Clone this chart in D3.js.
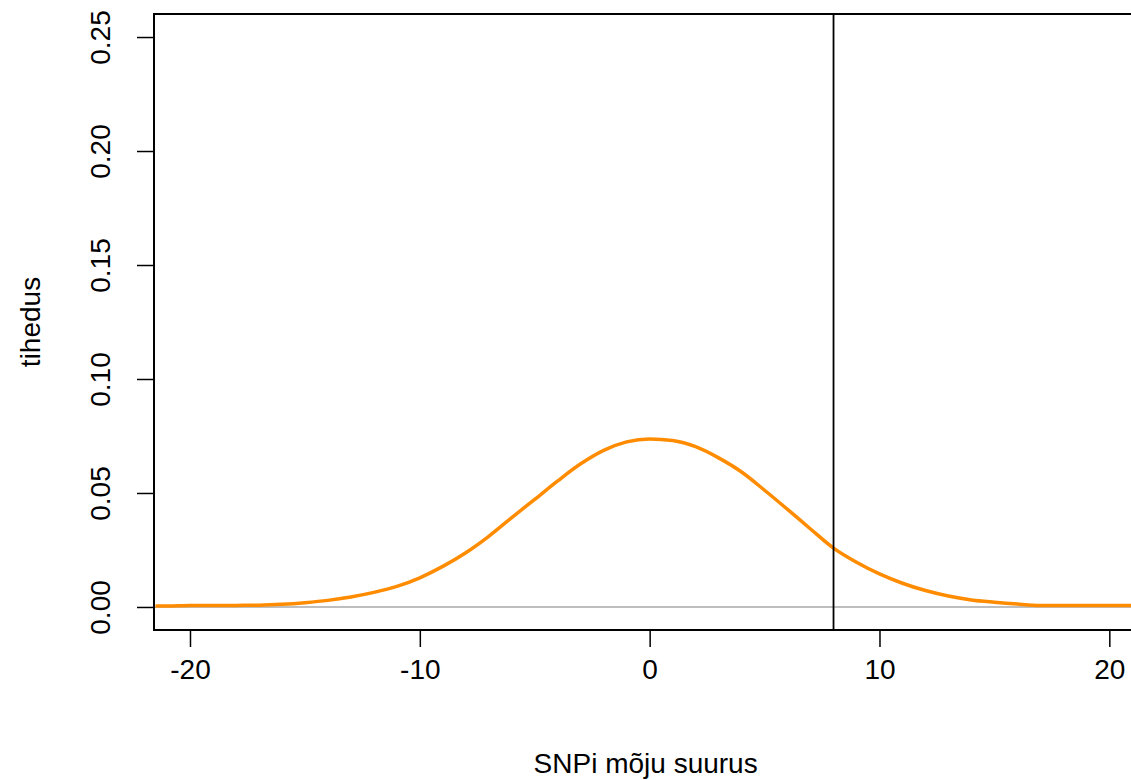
<!DOCTYPE html>
<html>
<head>
<meta charset="utf-8">
<script src="https://cdn.jsdelivr.net/npm/d3@7"></script>
<style>
  body { margin: 0; background: #fff; }
  text { font-family: "Liberation Sans", Arial, sans-serif; fill: #000; }
</style>
</head>
<body>
<div id="chart"></div>
<script>
// density, one value per unit of effect size
var effect = [-21.5, -21, -20, -19, -18, -17, -16, -15, -14, -13, -12, -11, -10, -9, -8, -7, -6, -5, -4, -3, -2, -1,
              0, 1, 2, 3, 4, 5, 6, 7, 8, 9, 10, 11, 12, 13, 14, 15, 16, 17, 18, 19, 20, 21];
var density = [0.0004, 0.0004, 0.0006, 0.0006, 0.0007, 0.0008, 0.0012, 0.0019, 0.0029, 0.0044, 0.0064, 0.0090, 0.0128, 0.0178, 0.0238, 0.0310, 0.0392, 0.0472, 0.0553, 0.0628, 0.0687, 0.0724,
               0.0737, 0.0730, 0.0703, 0.0654, 0.0592, 0.0512, 0.0428, 0.0342, 0.0258, 0.0196, 0.0145, 0.0104, 0.0072, 0.0048, 0.0031, 0.0021, 0.0013, 0.0007, 0.0006, 0.0006, 0.0006, 0.0006];
var xTicks = [-20, -10, 0, 10, 20];
var yTicks = [0, 0.05, 0.10, 0.15, 0.20, 0.25];
var cutoff = 8;
var xTitle = "SNPi mõju suurus";
var yTitle = "tihedus";

var width = 1131,
    height = 780,
    margin = {top: 14, bottom: 150, left: 154, right: -5};

var data = effect.map(function(v, i){ return {x: v, y: density[i]}; });

var x = d3.scaleLinear()
  .domain([-21.566, 21.161])
  .range([margin.left, width - margin.right]);

var y = d3.scaleLinear()
  .domain([-0.0101, 0.2601])
  .range([height - margin.bottom, margin.top]);

var svg = d3.select("#chart").append("svg")
  .attr("width", width)
  .attr("height", height);

svg.append("clipPath").attr("id", "plotclip")
  .append("rect")
  .attr("x", margin.left).attr("y", margin.top)
  .attr("width", width - margin.left - margin.right)
  .attr("height", height - margin.top - margin.bottom);

var plot = svg.append("g").attr("clip-path", "url(#plotclip)");

// zero line
plot.append("line")
  .attr("x1", margin.left).attr("x2", width)
  .attr("y1", y(0)).attr("y2", y(0))
  .style("stroke", "#bebebe")
  .style("stroke-width", 2);

var line = d3.line()
  .curve(d3.curveMonotoneX)
  .x(function(d){ return x(d.x); })
  .y(function(d){ return y(d.y); });

plot.append("path")
  .datum(data)
  .attr("d", line)
  .style("fill", "none")
  .style("stroke", "#ff8c00")
  .style("stroke-width", 3.5);

// cutoff line
plot.append("line")
  .attr("x1", x(cutoff)).attr("x2", x(cutoff))
  .attr("y1", margin.top).attr("y2", height - margin.bottom)
  .style("stroke", "#000")
  .style("stroke-width", 1.8);

// box
svg.append("rect")
  .attr("x", margin.left).attr("y", margin.top)
  .attr("width", width - margin.left - margin.right)
  .attr("height", height - margin.top - margin.bottom)
  .style("fill", "none")
  .style("stroke", "#000")
  .style("stroke-width", 2);

// axes
var xAxis = svg.append("g")
  .attr("transform", "translate(0," + (height - margin.bottom) + ")")
  .call(d3.axisBottom(x).tickValues(xTicks).tickSize(17).tickPadding(12)
    .tickFormat(function(d){ return d3.format("")(d).replace("−", "-"); }));
xAxis.select(".domain").remove();
xAxis.selectAll(".tick line").style("stroke", "#000").style("stroke-width", 1.5);
xAxis.selectAll("text").style("font-size", "28px").attr("dy", "0.71em");

var yAxis = svg.append("g")
  .attr("transform", "translate(" + margin.left + ",0)")
  .call(d3.axisLeft(y).tickValues(yTicks).tickSize(17).tickFormat(d3.format(".2f")));
yAxis.select(".domain").remove();
yAxis.selectAll(".tick line").style("stroke", "#000").style("stroke-width", 1.5);
yAxis.selectAll("text")
  .style("font-size", "28px")
  .style("text-anchor", "middle")
  .attr("x", 0).attr("dy", 0)
  .attr("transform", "translate(-44,0) rotate(-90)");

// titles
svg.append("text")
  .attr("x", x(0) - 4).attr("y", 773)
  .style("text-anchor", "middle")
  .style("font-size", "28px")
  .text(xTitle);

svg.append("text")
  .attr("transform", "translate(40," + 322 + ") rotate(-90)")
  .style("text-anchor", "middle")
  .style("font-size", "28px")
  .text(yTitle);
</script>
</body>
</html>
